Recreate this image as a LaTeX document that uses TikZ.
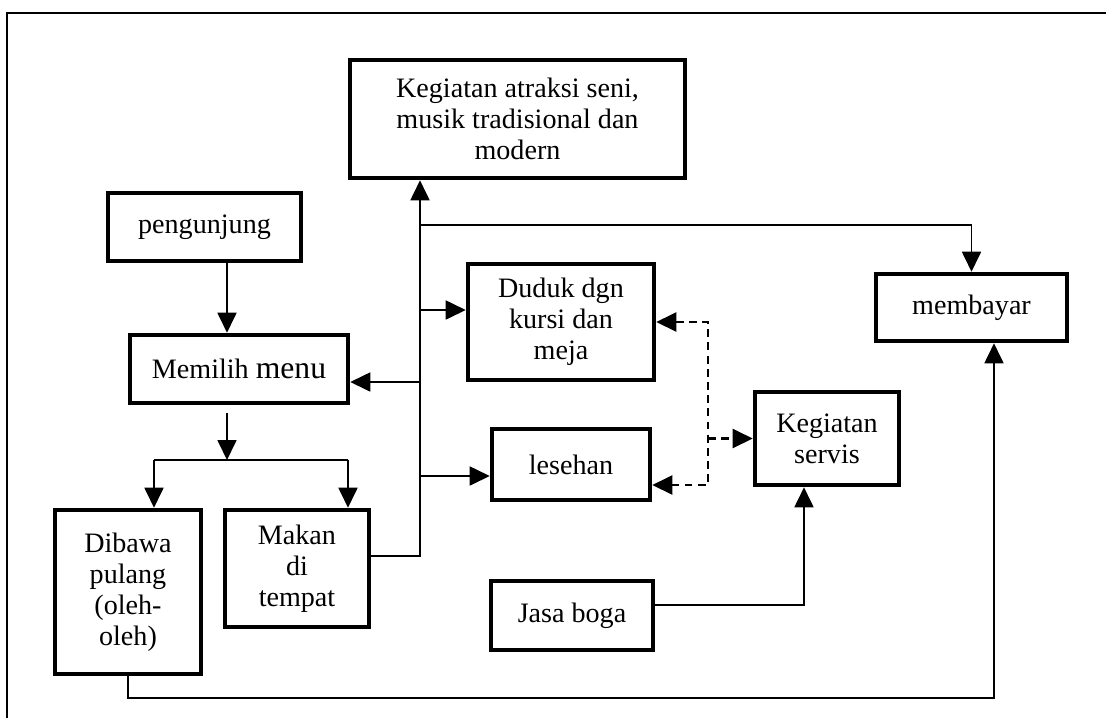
\documentclass[tikz,border=0pt]{standalone}
\usepackage{fontspec}
\setmainfont{Liberation Serif}
\usetikzlibrary{arrows.meta}
\begin{document}
\begin{tikzpicture}[x=0.02cm, y=-0.02cm, >={Triangle[length=0.4cm, width=0.38cm]}, font=\fontsize{16}{17.6}\selectfont,
	kotak/.style={draw, line width=2.6pt, align=center, inner sep=0pt},
	garis/.style={line width=1pt},
	putus/.style={line width=1.2pt, dash pattern=on 4.5pt off 3pt}]
	\useasboundingbox (0,0) rectangle (1106,718);
	% Bingkai
	\draw[line width=1.2pt] (7,718) -- (7,13) -- (1106,13);
	% Kotak
	\node[kotak, minimum width=6.70cm, minimum height=2.36cm] (atraksi) at (517.5,119) {Kegiatan atraksi seni,\\musik tradisional dan\\modern};
	\node[kotak, minimum width=3.86cm, minimum height=1.36cm] (pengunjung) at (204.5,227) {pengunjung};
	\node[kotak, minimum width=4.36cm, minimum height=1.36cm] (memilih) at (239,369) {Memilih {\fontsize{18}{19}\selectfont menu}};
	\node[kotak, minimum width=2.92cm, minimum height=3.28cm] (dibawa) at (128,592) {Dibawa\\pulang\\(oleh-\\oleh)};
	\node[kotak, minimum width=2.88cm, minimum height=2.34cm] (makan) at (297,568.5) {Makan\\di\\tempat};
	\node[kotak, minimum width=3.72cm, minimum height=2.32cm] (duduk) at (561,322) {Duduk dgn\\kursi dan\\meja};
	\node[kotak, minimum width=3.16cm, minimum height=1.42cm] (lesehan) at (571,464.5) {lesehan};
	\node[kotak, minimum width=3.24cm, minimum height=1.38cm] (jasa) at (572,615.5) {Jasa boga};
	\node[kotak, minimum width=2.88cm, minimum height=1.86cm] (servis) at (827,438.5) {Kegiatan\\servis};
	\node[kotak, minimum width=3.82cm, minimum height=1.34cm] (membayar) at (971.5,307.5) {membayar};
	% Titik bantu
	\coordinate (menuOut) at (227,413);
	\coordinate (cabang) at (227,460);
	\coordinate (cabKiri) at (154,460);
	\coordinate (cabKanan) at (348,460);
	\coordinate (batang) at (420,556);
	\coordinate (tBayar) at (420,225);
	\coordinate (tDuduk) at (420,310);
	\coordinate (tMenu) at (420,382);
	\coordinate (tLes) at (420,476);
	\coordinate (dAtas) at (708,322);
	\coordinate (dBawah) at (708,485);
	\coordinate (sudutJasa) at (804,605);
	\coordinate (sudutBawah) at (994,698);
	% Panah
	\draw[garis,->] (pengunjung.south -| menuOut) -- (memilih.north -| menuOut);
	\draw[garis,->] (menuOut) -- (cabang);
	\draw[garis] (cabKiri) -- (cabKanan);
	\draw[garis,->] (cabKiri) -- (dibawa.north -| cabKiri);
	\draw[garis,->] (cabKanan) -- (makan.north -| cabKanan);
	\draw[garis,->] (makan.east |- batang) -- (batang) -- (atraksi.south -| batang);
	\draw[garis,->] (tBayar) -| (membayar.north);
	\draw[garis,->] (tDuduk) -- (duduk.west |- tDuduk);
	\draw[garis,->] (tMenu) -- (memilih.east |- tMenu);
	\draw[garis,->] (tLes) -- (lesehan.west |- tLes);
	% Garis putus-putus
	\draw[putus,<->] (duduk.east |- dAtas) -- (dAtas) -- (dBawah) -- (lesehan.east |- dBawah);
	\draw[putus,->] (dAtas |- servis.west) -- (servis.west);
	\draw[garis,->] (jasa.east |- sudutJasa) -- (sudutJasa) -- (servis.south -| sudutJasa);
	\draw[garis,->] (dibawa.south) |- (sudutBawah) -- (membayar.south -| sudutBawah);
\end{tikzpicture}
\end{document}
